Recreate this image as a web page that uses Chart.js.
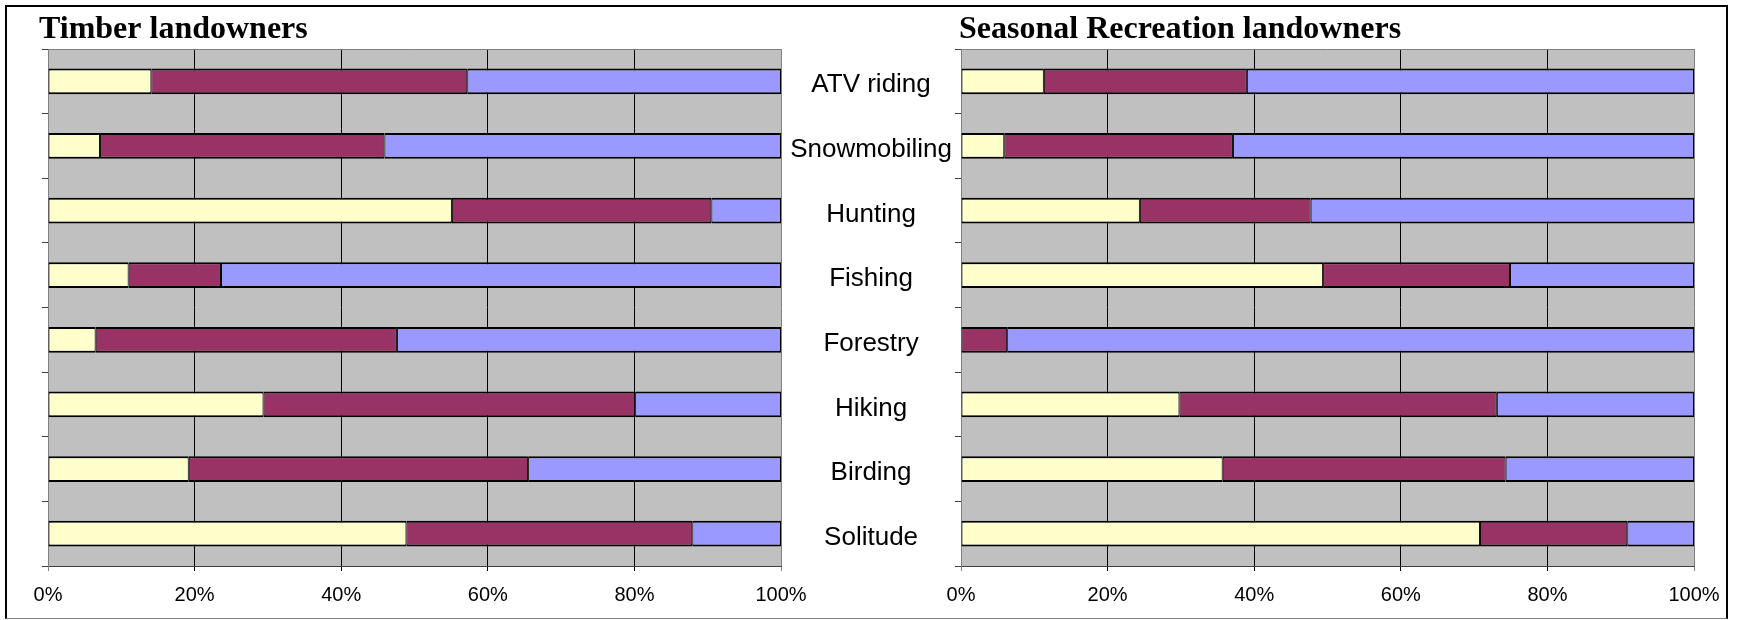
<!DOCTYPE html>
<html>
<head>
<meta charset="utf-8">
<script src="https://cdn.jsdelivr.net/npm/chart.js@4.4.0/dist/chart.umd.min.js"></script>
<style>
  html, body { margin: 0; padding: 0; background: #fff; }
  #page { position: relative; width: 1737px; height: 620px; overflow: hidden; }
  #frame { position: absolute; left: 5px; top: 5px; width: 1719px; height: 611px;
           border: 2px solid #000; border-bottom: 1px solid #808080; }
  canvas { position: absolute; top: 0; }
  #timberChart { left: 0; }
  #seasonalChart { left: 781px; }
</style>
</head>
<body>
<div id="page">
  <div id="frame"></div>
  <canvas id="timberChart" width="830" height="620"></canvas>
  <canvas id="seasonalChart" width="956" height="620"></canvas>
</div>
<script>
// Activities, top to bottom
const activities = ['ATV riding', 'Snowmobiling', 'Hunting', 'Fishing', 'Forestry', 'Hiking', 'Birding', 'Solitude'];
const seriesNames = ['Series 1', 'Series 2', 'Series 3'];
const xTickValues = [0, 20, 40, 60, 80, 100];

// Timber landowners (percent)
const timberYellow = [14.1, 7.1, 55.1, 11.0, 6.5, 29.4, 19.2, 48.9];
const timberMaroon = [43.1, 38.8, 35.4, 12.6, 41.1, 50.7, 46.3, 39.0];
const timberBlue   = [42.8, 54.1, 9.5, 76.4, 52.4, 19.9, 34.5, 12.1];

// Seasonal Recreation landowners (percent)
const seasonalYellow = [11.3, 5.9, 24.4, 49.4, 0, 29.8, 35.7, 70.8];
const seasonalMaroon = [27.7, 31.2, 23.3, 25.5, 6.3, 43.3, 38.6, 20.1];
const seasonalBlue   = [61.0, 62.9, 52.3, 25.1, 93.7, 26.9, 25.7, 9.1];

const colors = ['#FFFFCC', '#993366', '#9999FF'];

// gray plot area + title drawn over the top-left of the plot
const plotDecor = {
    id: 'plotDecor',
    beforeDraw(chart) {
        const { ctx, chartArea: a } = chart;
        ctx.save();
        ctx.fillStyle = '#C0C0C0';
        ctx.fillRect(a.left, a.top, a.right - a.left, a.bottom - a.top);
        ctx.restore();
    },
    afterDraw(chart, args, opts) {
        const { ctx, chartArea: a } = chart;
        ctx.save();
        ctx.strokeStyle = '#808080';
        ctx.lineWidth = 1;
        ctx.beginPath();
        ctx.moveTo(a.left, a.top + 0.5);
        ctx.lineTo(a.right, a.top + 0.5);
        ctx.stroke();
        ctx.font = 'bold 32px "Liberation Serif", "Times New Roman", serif';
        ctx.fillStyle = '#000';
        ctx.textBaseline = 'alphabetic';
        ctx.textAlign = 'left';
        ctx.fillText(opts.text, a.left + opts.shift, a.top - 11);
        ctx.restore();
    }
};

function makeChart(canvasId, title, shift, values, showLabels, axisWidth, padRight) {
    const datasets = values.map((vals, i) => ({
        label: seriesNames[i],
        data: vals,
        backgroundColor: colors[i],
        borderColor: '#000',
        borderWidth: { top: 2, bottom: 2, left: 1, right: 1 },
        borderSkipped: false,
        categoryPercentage: 1,
        barPercentage: 0.4
    }));

    return new Chart(document.getElementById(canvasId), {
        type: 'bar',
        data: { labels: activities, datasets: datasets },
        plugins: [plotDecor],
        options: {
            indexAxis: 'y',
            responsive: false,
            animation: false,
            layout: { padding: { left: 0, top: 49, right: padRight, bottom: 0 } },
            plugins: {
                legend: { display: false },
                tooltip: { enabled: false },
                plotDecor: { text: title, shift: shift }
            },
            scales: {
                x: {
                    stacked: true,
                    min: 0,
                    max: 100,
                    afterBuildTicks: (scale) => {
                        scale.ticks = xTickValues.map(v => ({ value: v }));
                    },
                    afterFit: (scale) => { scale.height = 54; },
                    grid: {
                        color: (c) => (c.tick && (c.tick.value === 0 || c.tick.value === 100)) ? '#808080' : '#000',
                        lineWidth: 1,
                        tickLength: 5
                    },
                    border: { color: '#404040', width: 1 },
                    ticks: {
                        padding: 12,
                        color: '#000',
                        font: { family: '"Liberation Sans", Arial, sans-serif', size: 20 },
                        callback: (v) => v + '%'
                    }
                },
                y: {
                    stacked: true,
                    afterFit: (scale) => { scale.width = axisWidth; },
                    grid: {
                        drawOnChartArea: false,
                        drawTicks: true,
                        tickLength: 6,
                        color: '#404040'
                    },
                    border: { color: '#808080', width: 1 },
                    ticks: {
                        display: showLabels,
                        crossAlign: 'center',
                        padding: 3,
                        labelOffset: 4,
                        color: '#000',
                        font: { family: '"Liberation Sans", Arial, sans-serif', size: 26 }
                    }
                }
            }
        }
    });
}

makeChart('timberChart', 'Timber landowners', -9,
    [timberYellow, timberMaroon, timberBlue], false, 48, 49);
makeChart('seasonalChart', 'Seasonal Recreation landowners', -2,
    [seasonalYellow, seasonalMaroon, seasonalBlue], true, 180, 43);
</script>
</body>
</html>
